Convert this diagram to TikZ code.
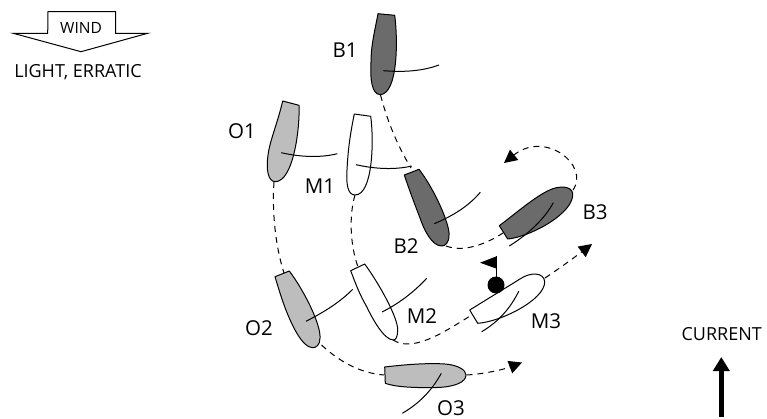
\documentclass[tikz,border=0pt]{standalone}
\usepackage{fontspec}
\setmainfont{Open Sans}
\usetikzlibrary{arrows.meta}
\tikzset{
  x=1pt,y=-1pt,
  boat/.style={draw=black,line width=1pt,line join=round},
  dark/.style={boat,fill=black!58},
  mid/.style={boat,fill=black!26},
  light/.style={boat,fill=white},
  sail/.style={draw=black,line width=1pt},
  track/.style={draw=black,line width=1pt,dash pattern=on 6pt off 5pt},
  trackarrow/.style={track,-{Triangle[length=13pt,width=13pt]}},
  big/.style={font=\fontsize{20.5pt}{22pt}\selectfont,inner sep=0pt,text=black},
  small/.style={font=\fontsize{18pt}{20pt}\selectfont,inner sep=0pt,text=black},
}
\begin{document}
\begin{tikzpicture}
\useasboundingbox (0,0) rectangle (767,419);
% wind
\draw[line width=1pt,line join=miter,fill=white] (13.3,33.3) -- (47.7,33.3) -- (48,11.7) -- (115.7,11.7) -- (115.7,33.3) -- (147.7,33.3) -- (81,51.7) -- cycle;
\node[small,font=\fontsize{15.5pt}{18pt}\selectfont] (wind) at (81,28) {WIND};
\node[small] (light) at (78,72) {LIGHT, ERRATIC};
% boats
\draw[dark] (394.7,15.3) .. controls (398,40) and (398,94) .. (380,94.7) .. controls (372,94) and (370,80) .. (371,62) .. controls (371,45) and (375,30) .. (378,13.7) -- cycle;
\draw[mid] (299,105.3) .. controls (300,130) and (293,182) .. (275,181.7) .. controls (268,181) and (266,170) .. (268,155) .. controls (270,140) and (277,125) .. (282.7,101) -- cycle;
\draw[light] (370.7,116.3) .. controls (374,140) and (373,195) .. (355,195) .. controls (348,195) and (346,185) .. (347,170) .. controls (348,150) and (350,135) .. (354.3,114) -- cycle;
\draw[dark] (419,169.3) .. controls (435,190) and (450,225) .. (449,235) .. controls (449,243) and (445,246) .. (441.7,246) .. controls (432,246) and (424,230) .. (420,218) .. controls (415,205) and (410,192) .. (404.3,175) -- cycle;
\draw[dark] (499.3,225.7) -- (507.7,239) .. controls (530,237) and (575,213) .. (572.7,193) .. controls (571,186) and (560,186) .. (552,189) .. controls (537,195) and (520,210) .. (499.3,225.7) -- cycle;
\draw[mid] (289.3,271) .. controls (305,292) and (321,325) .. (320,338) .. controls (320,345) and (316,348) .. (312.3,347.7) .. controls (302,347) and (292,325) .. (286.7,312) .. controls (282,300) and (279,290) .. (275,276.7) -- cycle;
\draw[light] (364.7,264) .. controls (380,285) and (398,318) .. (397.7,330) .. controls (397.5,337) and (396,340) .. (393.3,340) .. controls (384,340) and (372,318) .. (366.7,306.7) .. controls (360,295) and (356,285) .. (350.7,270.7) -- cycle;
\draw[light] (469.7,310) -- (477.7,323.3) .. controls (500,322) and (545,300) .. (544.7,281.7) .. controls (544,272) and (530,272) .. (520,279) -- cycle;
\draw[mid] (384.7,367) .. controls (410,364) and (430,363) .. (445,364) .. controls (458,365) and (466,370) .. (466,375) .. controls (466,382) and (455,387) .. (436.7,387.5) .. controls (415,388) and (395,387) .. (385.3,383.3) -- cycle;
% sails
\draw[sail] (383.3,70.7) .. controls (400,72) and (420,72) .. (439,65);
\draw[sail] (281.3,152.7) .. controls (300,157) and (320,158) .. (337.3,153.7);
\draw[sail] (356,164.7) .. controls (375,169) and (395,170) .. (411.7,166);
\draw[sail] (434.3,223.7) .. controls (450,217) and (467,208) .. (480.3,192.3);
\draw[sail] (553.3,202.7) .. controls (545,218) and (530,233) .. (509.3,246);
\draw[sail] (306,321.3) .. controls (322,313) and (338,304) .. (352.7,289.3);
\draw[sail] (382,312) .. controls (398,304) and (413,293) .. (426.7,278.3);
\draw[sail] (518.7,291.3) .. controls (510,309) and (498,322) .. (481.7,331.7);
\draw[sail] (441.3,373.3) .. controls (432,390) and (420,403) .. (402.3,413.3);
% tracks
\coordinate (b1) at (380.5,95);
\coordinate (b2s) at (411,168);
\coordinate (b2b) at (446,246);
\coordinate (b3s) at (503,233);
\coordinate (b3b) at (573,190);
\coordinate (b3e) at (504,163);
\coordinate (o1) at (274,182);
\coordinate (o2s) at (284,273);
\coordinate (o2b) at (321.5,345);
\coordinate (o3s) at (384,375);
\coordinate (o3b) at (466.5,375);
\coordinate (o3e) at (522,362.5);
\coordinate (m1) at (355,195);
\coordinate (m2s) at (358,267);
\coordinate (m2b) at (393,340);
\coordinate (m3s) at (470,316);
\coordinate (m3b) at (545,278);
\coordinate (m3e) at (592,244);
\draw[track] (b1) .. controls (387,120) and (397,145) .. (b2s);
\draw[track] (o1) .. controls (272,210) and (275,245) .. (o2s);
\draw[track] (m1) .. controls (349,215) and (350,245) .. (m2s);
\draw[track] (b2b) .. controls (462,252) and (483,246) .. (b3s);
\draw[trackarrow] (b3b) .. controls (590,165) and (545,130) .. (b3e);
\draw[track] (o2b) .. controls (340,362) and (360,373) .. (o3s);
\draw[trackarrow] (o3b) .. controls (485,374) and (505,369) .. (o3e);
\draw[track] (m2b) .. controls (412,352) and (440,335) .. (m3s);
\draw[trackarrow] (m3b) .. controls (560,268) and (575,257) .. (m3e);
% flag
\coordinate (flagtop) at (496,256.5);
\coordinate (flagbase) at (496,285);
\draw[line width=1pt] (flagbase) -- (flagtop);
\fill (flagbase) circle[radius=8.5];
\fill (flagtop) -- (480,262.7) -- (496,268.5) -- cycle;
% labels
\node[big] (B1) at (345,50) {B1};
\node[big] (O1) at (242,131) {O1};
\node[big] (M1) at (320,186) {M1};
\node[big] (B2) at (406,246) {B2};
\node[big] (B3) at (595,212) {B3};
\node[big] (O2) at (259,328) {O2};
\node[big] (M2) at (422,316) {M2};
\node[big] (M3) at (546,321) {M3};
\node[big] (O3) at (451,408) {O3};
\node[small] (current) at (721.7,334) {CURRENT};
\coordinate (curbase) at (721.3,417);
\coordinate (curtip) at (721.3,357);
\draw[line width=5.5pt,-{Triangle[length=14pt,width=16pt]}] (curbase) -- (curtip);
\end{tikzpicture}
\end{document}
